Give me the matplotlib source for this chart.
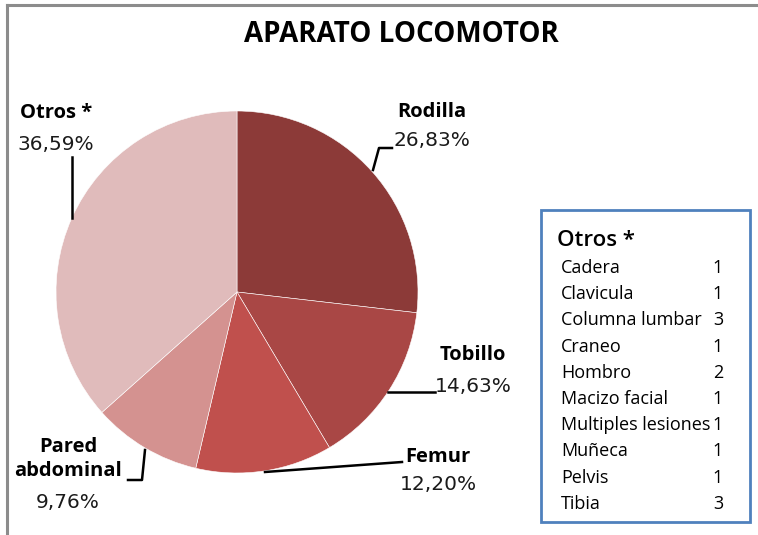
import matplotlib.pyplot as plt
from matplotlib.patches import Rectangle
from matplotlib.lines import Line2D

# datos del grafico
partes = ['Rodilla', 'Tobillo', 'Femur', 'Pared\nabdominal', 'Otros *']
casos = [11, 6, 5, 4, 15]
porcentajes = ['26,83%', '14,63%', '12,20%', '9,76%', '36,59%']
colores = ['#8C3A38', '#A94745', '#C0504D', '#D49290', '#E0BBBB']

otros_nombres = ['Cadera', 'Clavicula', 'Columna lumbar', 'Craneo', 'Hombro',
                 'Macizo facial', 'Multiples lesiones', 'Muñeca', 'Pelvis', 'Tibia']
otros_casos = [1, 1, 3, 1, 2, 1, 1, 1, 1, 3]

W, H = 758, 535
fig = plt.figure(figsize=(W / 100, H / 100), dpi=100)
fuente = 'Open Sans'

def fx(px):
    return px / W

def fy(py):
    return 1 - py / H

# marco gris (solo arriba e izquierda, como en la captura)
fig.add_artist(Line2D([fx(7), 1], [fy(5), fy(5)], color='#8c8c8c', lw=2.2))
fig.add_artist(Line2D([fx(7), fx(7)], [fy(5), 0], color='#8c8c8c', lw=2.2))

fig.text(fx(401), fy(35), 'APARATO LOCOMOTOR', ha='center', va='center',
         fontsize=20, fontweight='bold', family=fuente)

# tarta
cx, cy, r = 237, 292, 181
ax = fig.add_axes([fx(cx - r), fy(cy + r), (2 * r) / W, (2 * r) / H])
ax.pie(casos, colors=colores, startangle=90, counterclock=False,
       wedgeprops=dict(edgecolor='white', linewidth=0.4), radius=1.0)
ax.set_xlim(-1, 1)
ax.set_ylim(-1, 1)
ax.set_aspect('auto')
ax.axis('off')

# etiquetas: (posicion nombre, posicion porcentaje, linea guia)
etiquetas = [
    ((432, 112), (432, 140), [(373, 170), (379, 148), (392, 148)]),
    ((473, 355), (473, 387), [(388, 392), (435, 392)]),
    ((438, 457), (438, 485), [(265, 472), (402, 462)]),
    ((68, 459), (68, 503), [(145, 450), (142, 480), (128, 480)]),
    ((56, 113), (56, 145), [(72, 157), (72, 218)]),
]
for nombre, pct, (pn, pp, guia) in zip(partes, porcentajes, etiquetas):
    fig.text(fx(pn[0]), fy(pn[1]), nombre, ha='center', va='center',
             fontsize=14.5, fontweight='bold', family=fuente, linespacing=1.2)
    fig.text(fx(pp[0]), fy(pp[1]), pct, ha='center', va='center',
             fontsize=14.5, family='DejaVu Sans', color='#1a1a1a')
    xs = [fx(p[0]) for p in guia]
    ys = [fy(p[1]) for p in guia]
    fig.add_artist(Line2D(xs, ys, color='black', lw=1.8))

# cuadro de "Otros"
fig.add_artist(Rectangle((fx(541), fy(522)), (750 - 541) / W, (522 - 210) / H,
                         fill=False, edgecolor='#4F81BD', lw=2))
fig.text(fx(557), fy(240), 'Otros *', ha='left', va='center',
         fontsize=16, family=fuente, fontweight='semibold')
for i, (nom, n) in enumerate(zip(otros_nombres, otros_casos)):
    y = 268 + i * 26.2
    fig.text(fx(561), fy(y), nom, ha='left', va='center',
             fontsize=13, family=fuente)
    fig.text(fx(718), fy(y), str(n), ha='center', va='center',
             fontsize=13, family=fuente)

fig.savefig('out.png', dpi=100)
